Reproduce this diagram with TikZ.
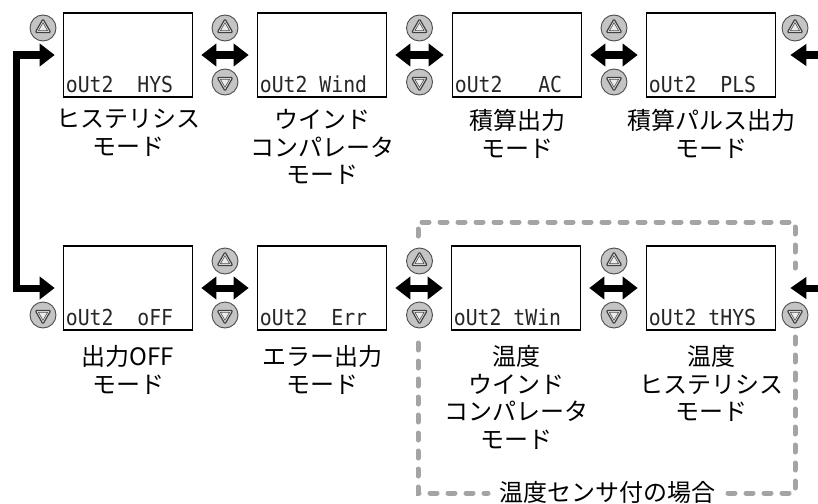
\documentclass[tikz,border=0pt]{standalone}
\usepackage{fontspec}
\newfontfamily\jpfont{Noto Sans CJK JP}
\newfontfamily\lcdfont[FakeStretch=0.9]{DejaVu Sans Mono}
\usetikzlibrary{arrows.meta}
\definecolor{framegray}{HTML}{A4A4A4}
\definecolor{btnfill}{HTML}{C4C4C4}
\begin{document}
\begin{tikzpicture}[x=1pt,y=-1pt,
  lcd/.style={draw=black, line width=1.6pt, minimum width=129pt, minimum height=84pt, inner sep=0pt, fill=white},
  seg/.style={font=\lcdfont\fontsize{22}{22}\selectfont, inner sep=0pt, text=black!85},
  lbl/.style={font=\jpfont\fontsize{24}{27.7}\selectfont, align=center, inner sep=0pt, anchor=north},
  btn/.style={circle, draw=black!70, fill=btnfill, line width=0.9pt, minimum size=26pt, inner sep=0pt},
  upbtn/.style={btn, path picture={
     \draw[line width=1.2pt, draw=black!75, fill=black!8, line join=round, rounded corners=1.2pt]
       ([shift={(90:9pt)}]path picture bounding box.center) -- ([shift={(210:9pt)}]path picture bounding box.center)
       -- ([shift={(330:9pt)}]path picture bounding box.center) -- cycle;
     \draw[line width=0.6pt, draw=black!70]
       ([shift={(90:5.3pt)}]path picture bounding box.center) -- ([shift={(210:5.3pt)}]path picture bounding box.center)
       -- ([shift={(330:5.3pt)}]path picture bounding box.center) -- cycle;}},
  dnbtn/.style={btn, path picture={
     \draw[line width=1.2pt, draw=black!75, fill=black!8, line join=round, rounded corners=1.2pt]
       ([shift={(270:9pt)}]path picture bounding box.center) -- ([shift={(30:9pt)}]path picture bounding box.center)
       -- ([shift={(150:9pt)}]path picture bounding box.center) -- cycle;
     \draw[line width=0.6pt, draw=black!70]
       ([shift={(270:5.3pt)}]path picture bounding box.center) -- ([shift={(30:5.3pt)}]path picture bounding box.center)
       -- ([shift={(150:5.3pt)}]path picture bounding box.center) -- cycle;}},
  bigarr/.style={line width=7pt, -{Triangle[length=16pt,width=21pt]}},
  dblarr/.style={line width=7pt, {Triangle[length=15pt,width=22pt]}-{Triangle[length=15pt,width=22pt]}},
  frame/.style={draw=framegray, line width=5pt, dash pattern=on 7pt off 11pt, line cap=round}
]
\useasboundingbox (0,0) rectangle (818,503);

% dashed frame (temperature sensor region)
\draw[frame] (418,236) -- (418,222) -- (795,222) -- (795,268);
\draw[frame] (418,343) -- (418,493) -- (488,493);
\draw[frame] (728,493) -- (795,493) -- (795,336);
\node[font=\jpfont\fontsize{24}{27.7}\selectfont, inner sep=0pt] (tlbl) at (607,492) {温度センサ付の場合};

% LCD boxes
\node[lcd] (b1) at (128,55) {};
\node[lcd] (b2) at (322,55) {};
\node[lcd] (b3) at (517,55) {};
\node[lcd] (b4) at (711,55) {};
\node[lcd] (b5) at (128,288) {};
\node[lcd] (b6) at (322,288) {};
\node[lcd] (b7) at (516,288) {};
\node[lcd] (b8) at (711,288) {};

% LCD texts
\foreach \b/\w in {b1/HYS, b2/Wind, b3/AC, b4/PLS, b5/oFF, b6/Err, b7/tWin, b8/tHYS}{
  \node[seg, anchor=base west] (\b l) at ([xshift=3pt,yshift=5pt]\b.south west) {oUt2};
  \node[seg, anchor=base east] (\b r) at ([xshift=-20pt,yshift=5pt]\b.south east) {\w};
}

% mode labels
\node[lbl] (l1) at (128,109) {ヒステリシス\\モード};
\node[lbl] (l2) at (322,109) {ウインド\\コンパレータ\\モード};
\node[lbl] (l3) at (517,109) {積算出力\\モード};
\node[lbl] (l4) at (711,109) {積算パルス出力\\モード};
\node[lbl] (l5) at (128,345) {出力OFF\\モード};
\node[lbl] (l6) at (322,345) {エラー出力\\モード};
\node[lbl] (l7) at (516,345) {温度\\ウインド\\コンパレータ\\モード};
\node[lbl] (l8) at (711,345) {温度\\ヒステリシス\\モード};

% buttons
\node[upbtn] (ua) at (43,28) {};
\node[upbtn] (ub) at (225,28) {};
\node[upbtn] (uc) at (419.5,28) {};
\node[upbtn] (ud) at (614,28) {};
\node[upbtn] (ue) at (795,28) {};
\node[dnbtn] (db) at (225,82) {};
\node[dnbtn] (dc) at (419.5,82) {};
\node[dnbtn] (dd) at (614,82) {};
\node[upbtn] (uf) at (225,261) {};
\node[upbtn] (ug) at (419.5,261) {};
\node[upbtn] (uh) at (614,261) {};
\node[dnbtn] (da2) at (43,315) {};
\node[dnbtn] (db2) at (225,315) {};
\node[dnbtn] (dc2) at (419.5,315) {};
\node[dnbtn] (dd2) at (614,315) {};
\node[dnbtn] (de2) at (795,315) {};

% connectors
\draw[dblarr] ([xshift=8pt]b1.east) -- ([xshift=-8pt]b2.west);
\draw[dblarr] ([xshift=8pt]b2.east) -- ([xshift=-8pt]b3.west);
\draw[dblarr] ([xshift=8pt]b3.east) -- ([xshift=-8pt]b4.west);
\draw[dblarr] ([xshift=8pt]b5.east) -- ([xshift=-8pt]b6.west);
\draw[dblarr] ([xshift=8pt]b6.east) -- ([xshift=-8pt]b7.west);
\draw[dblarr] ([xshift=8pt]b7.east) -- ([xshift=-8pt]b8.west);

\coordinate (cl) at (16,170);
\draw[dblarr] ([xshift=-8pt]b1.west) -| (cl) |- ([xshift=-8pt]b5.west);

\coordinate (rt1) at (830,55);
\coordinate (rt2) at (830,288);
\draw[bigarr] (rt1) -- ([xshift=14pt]b4.east);
\draw[bigarr] (rt2) -- ([xshift=14pt]b8.east);
\end{tikzpicture}
\end{document}
